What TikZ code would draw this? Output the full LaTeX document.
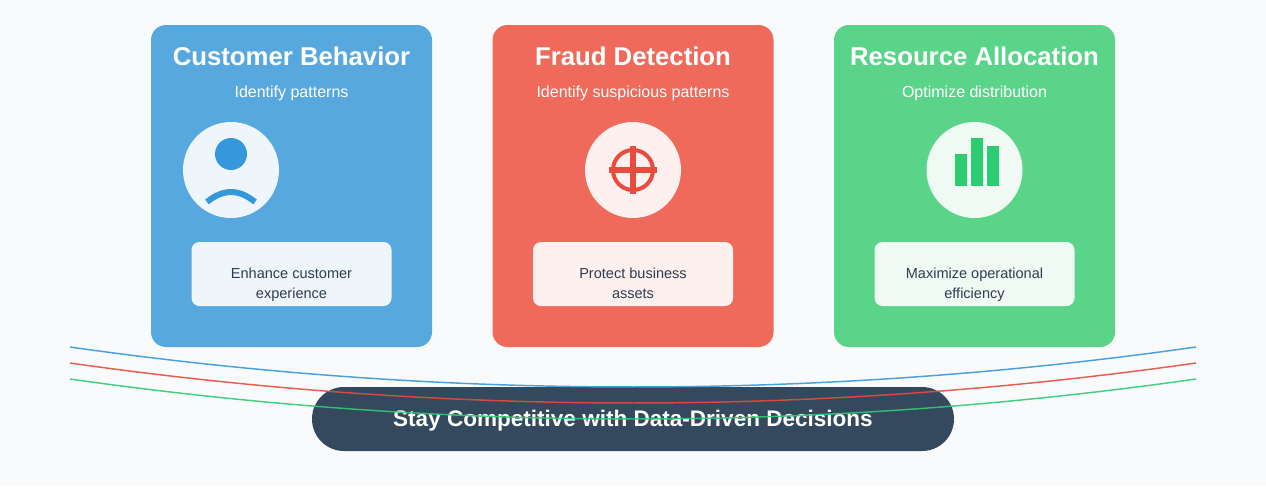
\documentclass[tikz,border=0pt]{standalone}
\usepackage{fontspec}
\setmainfont{Liberation Sans}
\definecolor{pagebg}{HTML}{F8FAFC}
\definecolor{custblue}{HTML}{3498DB}
\definecolor{fraudred}{HTML}{E74C3C}
\definecolor{resgreen}{HTML}{2ECC71}
\definecolor{custcard}{HTML}{58A8E0}
\definecolor{fraudcard}{HTML}{EF6A5B}
\definecolor{rescard}{HTML}{5AD489}
\definecolor{pilldark}{HTML}{34495E}
\definecolor{desctext}{HTML}{2C3E50}
\tikzset{
  card/.style={rectangle,fill=#1,minimum width=210.75pt,minimum height=241.5pt,rounded corners=11.25pt,inner sep=0pt},
  cardtitle/.style={anchor=base,text=white,font=\fontsize{19.3}{22}\selectfont\bfseries,inner sep=0pt},
  cardsub/.style={anchor=base,text=white,font=\fontsize{12}{14}\selectfont,inner sep=0pt},
  iconbg/.style={circle,fill=white,fill opacity=0.9,minimum size=72pt,inner sep=0pt},
  descbox/.style={rectangle,fill=white,fill opacity=0.9,minimum width=150pt,minimum height=48pt,rounded corners=6pt,inner sep=0pt},
  desclabel/.style={text=desctext,align=center,font=\fontsize{10.9}{15}\selectfont,inner sep=0pt},
  bar/.style={fill=resgreen},
  flow/.style={line width=1.1pt,draw opacity=0.9}
}
\begin{document}
\begin{tikzpicture}[x=0.75pt,y=-0.75pt]
  \fill[pagebg] (0,0) rectangle (1266,486);
  % cards
  \node (cust) [card=custcard] at (291.5,186) {};
  \node (fraud) [card=fraudcard] at (633,186) {};
  \node (res) [card=rescard] at (974.5,186) {};
  \node (custtitle) [cardtitle] at (291.5,65) {Customer Behavior};
  \node (fraudtitle) [cardtitle] at (633,65) {Fraud Detection};
  \node (restitle) [cardtitle] at (974.5,65) {Resource Allocation};
  \node (custsub) [cardsub] at (291.5,97) {Identify patterns};
  \node (fraudsub) [cardsub] at (633,97) {Identify suspicious patterns};
  \node (ressub) [cardsub] at (974.5,97) {Optimize distribution};
  % icons
  \node (custicon) [iconbg] at (231,170) {};
  \node (fraudicon) [iconbg] at (633,170) {};
  \node (resicon) [iconbg] at (974.5,170) {};
  \fill[custblue] (231,154) circle (12pt);
  \draw[custblue,line width=4.5pt] (207,202) .. controls (223,188.7) and (239,188.7) .. (255,202);
  \draw[fraudred,line width=3pt] (633,170) circle (15pt);
  \fill[fraudred] (609,167) rectangle (657,173);
  \fill[fraudred] (630,146) rectangle (636,194);
  \fill[bar] (954.5,154) rectangle (966.5,186);
  \fill[bar] (970.5,138) rectangle (982.5,186);
  \fill[bar] (986.5,146) rectangle (998.5,186);
  % text boxes
  \node (custbox) [descbox] at (291.5,274) {};
  \node (fraudbox) [descbox] at (633,274) {};
  \node (resbox) [descbox] at (974.5,274) {};
  \node (custdesc) [desclabel] at (291.5,284.5) {Enhance customer\strut\\experience\strut};
  \node (frauddesc) [desclabel] at (633,284.5) {Protect business\strut\\assets\strut};
  \node (resdesc) [desclabel] at (974.5,284.5) {Maximize operational\strut\\efficiency\strut};
  % bottom
  \node (goal) [rectangle,fill=pilldark,minimum width=481.5pt,minimum height=48pt,rounded corners=24pt,inner sep=0pt] at (633,419) {};
  \node (goaltext) [anchor=base,text=white,font=\fontsize{16.9}{18}\selectfont\bfseries,inner sep=0pt] at (633,426) {Stay Competitive with Data-Driven Decisions};
  \coordinate (blueleft) at (70,347);
  \coordinate (blueright) at (1196,347);
  \coordinate (redleft) at (70,363);
  \coordinate (redright) at (1196,363);
  \coordinate (greenleft) at (70,379);
  \coordinate (greenright) at (1196,379);
  \draw[flow,custblue] (blueleft) .. controls (445.3,400.3) and (820.7,400.3) .. (blueright);
  \draw[flow,fraudred] (redleft) .. controls (445.3,416.3) and (820.7,416.3) .. (redright);
  \draw[flow,resgreen] (greenleft) .. controls (445.3,432.3) and (820.7,432.3) .. (greenright);
\end{tikzpicture}
\end{document}
